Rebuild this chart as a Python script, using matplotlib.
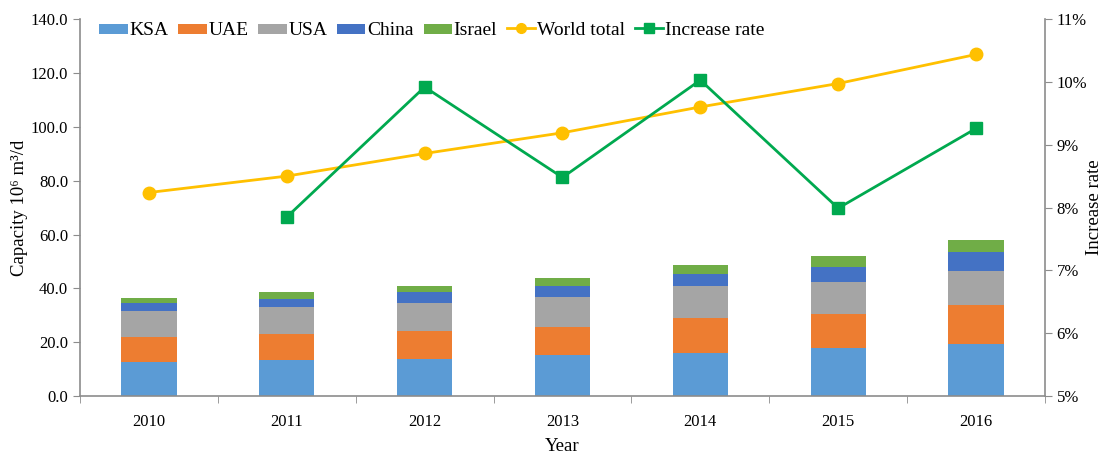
import matplotlib
matplotlib.use("Agg")
import matplotlib.pyplot as plt
import numpy as np
from matplotlib.ticker import FuncFormatter, FixedLocator

plt.rcParams['font.family'] = ['Liberation Serif', 'DejaVu Serif']

years = ['2010', '2011', '2012', '2013', '2014', '2015', '2016']

# installed capacity per country, 10^6 m3/d
ksa = [12.7, 13.4, 13.9, 15.1, 16.1, 17.7, 19.4]
uae = [9.3, 9.5, 10.2, 10.4, 12.8, 12.7, 14.3]
usa = [9.5, 10.2, 10.6, 11.2, 11.8, 12.0, 12.8]
china = [3.2, 2.9, 3.8, 4.2, 4.7, 5.6, 7.1]
israel = [1.6, 2.5, 2.4, 3.1, 3.2, 4.0, 4.3]

world_total = [75.6, 81.7, 90.1, 97.8, 107.4, 116.1, 126.9]
# yearly increase of the world total, %
increase_rate = [None, 7.85, 9.92, 8.48, 10.03, 7.99, 9.26]

countries = ['KSA', 'UAE', 'USA', 'China', 'Israel']
colors = ['#5B9BD5', '#ED7D31', '#A5A5A5', '#4472C4', '#70AD47']

fig = plt.figure(figsize=(11.04, 4.57), dpi=100)
ax = fig.add_axes([0.0725, 0.1335, 0.874, 0.8245])
ax2 = ax.twinx()

x = np.arange(len(years))
bottom = np.zeros(len(years))
handles = []
for name, vals, c in zip(countries, [ksa, uae, usa, china, israel], colors):
    b = ax.bar(x, vals, 0.4, bottom=bottom, color=c, label=name, zorder=2)
    bottom += np.array(vals)
    handles.append(b)

ax.set_xlim(-0.5, len(years) - 0.5)
ax.set_ylim(0, 140)
ax.set_yticks(np.arange(0, 141, 20))
ax.yaxis.set_major_formatter(FuncFormatter(lambda v, p: '%.1f' % v))
ax.set_xticks(x)
ax.set_xticklabels(years)
ax.xaxis.set_minor_locator(FixedLocator(np.arange(-0.5, len(years), 1.0)))
ax.tick_params(axis='x', which='major', length=0, pad=13)
ax.tick_params(axis='x', which='minor', length=5, color='#8c8c8c')
ax.tick_params(axis='y', length=5, color='#8c8c8c', labelsize=12)
ax.tick_params(axis='x', labelsize=12)
ax.set_xlabel('Year', fontsize=13.5, labelpad=6)
ax.set_ylabel('Capacity 10⁶ m³/d', fontsize=13.5)
ax.yaxis.set_label_coords(-0.054, 0.5)

# both lines on the twin axis so they sit above the bars
rate = np.array([np.nan if r is None else r for r in increase_rate])
wl, = ax2.plot(x, np.array(world_total) / 140 * 6 + 5, color='#FFC000', lw=2,
               marker='o', ms=9, label='World total', zorder=3)
rl, = ax2.plot(x, rate, color='#00A94F', lw=2, marker='s', ms=8,
               label='Increase rate', zorder=4)
ax2.set_ylim(5, 11)
ax2.set_yticks(np.arange(5, 12, 1))
ax2.yaxis.set_major_formatter(FuncFormatter(lambda v, p: '%d%%' % v))
ax2.tick_params(axis='y', length=5, color='#8c8c8c', labelsize=12)
ax2.set_ylabel('Increase rate', fontsize=13.5)
ax2.yaxis.set_label_coords(1.043, 0.5)

for a in (ax, ax2):
    a.spines['top'].set_visible(False)
    for s in ('left', 'right', 'bottom'):
        a.spines[s].set_color('#8c8c8c')
        a.spines[s].set_linewidth(1.2)
ax.spines['right'].set_visible(False)
ax2.spines['left'].set_visible(False)
ax2.spines['bottom'].set_visible(False)

leg = ax2.legend(handles + [wl, rl], countries + ['World total', 'Increase rate'],
                 loc='center left', bbox_to_anchor=(0.083, 0.934),
                 bbox_transform=fig.transFigure, ncol=7, frameon=False,
                 fontsize=14, handlelength=1.45, handletextpad=0.1,
                 columnspacing=0.5, borderaxespad=0)
for h in leg.legend_handles[:5]:
    h.set_height(7)
    h.set_y(1)
for h in leg.legend_handles[5:]:
    h.set_markersize(7)

fig.savefig('out.png', dpi=100)
